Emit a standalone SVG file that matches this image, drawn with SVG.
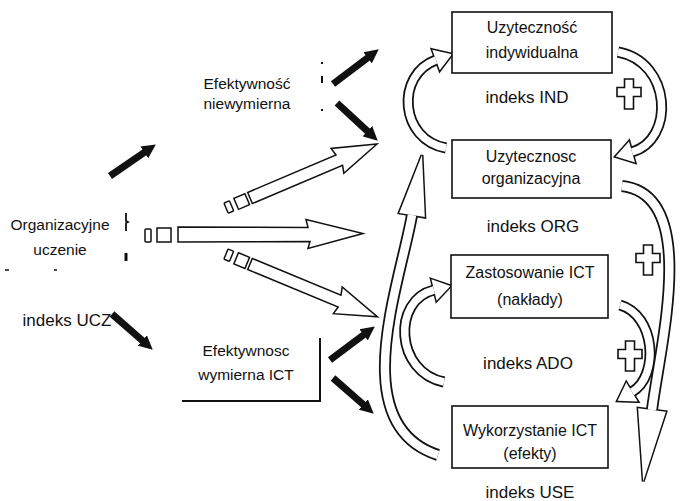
<svg xmlns="http://www.w3.org/2000/svg" width="682" height="501" viewBox="0 0 682 501">
<defs>
<style>
text{font-family:"Liberation Sans",Arial,sans-serif;fill:#111;text-anchor:middle}
.bt{font-size:16px}
.lt{font-size:15.5px}
.ix{font-size:17px}
.box{fill:#fff;stroke:#111;stroke-width:1.6}
.blk{fill:none;stroke:#111;stroke-width:7;marker-end:url(#ah)}
.hol{fill:#fff;stroke:#111;stroke-width:1.5;stroke-linejoin:miter}
.bo{fill:none;stroke:#111;stroke-width:11}
.bi{fill:none;stroke:#fff;stroke-width:7.5}
.Bo{fill:none;stroke:#111;stroke-width:12}
.Bi{fill:none;stroke:#fff;stroke-width:8.5}
.ho{fill:#fff;stroke:#111;stroke-width:3;stroke-linejoin:miter}
.hi{fill:#fff;stroke:none}
.pl{fill:#fff;stroke:#111;stroke-width:1.6}
.mk{stroke:#111;fill:none}
</style>
<marker id="ah" viewBox="0 0 14 15" markerWidth="14" markerHeight="15" markerUnits="userSpaceOnUse" refX="1" refY="7.5" orient="auto"><path d="M0,0.5 L14,7.5 L0,14.5 z" fill="#111"/></marker>
<path id="c1" d="M446,148 C400,140 395,75 436,60"/>
<path id="c2" d="M618,52 C672,62 675,140 632,152"/>
<path id="c3" d="M444,382 C395,372 392,300 434,290"/>
<path id="c4" d="M620,305 C655,315 660,375 632,392"/>
<path id="c5" d="M438,455 C345,425 400,284 412,215"/>
<path id="c6" d="M622,186 C700,195 660,345 652,410"/>
<polygon id="h1" points="432.2,49.7 452,54.2 439.8,70.3"/>
<polygon id="h2" points="629,141.4 615.6,156.6 635,162.6"/>
<polygon id="h3" points="431.4,279.3 450.5,286 436.6,300.7"/>
<polygon id="h4" points="637.7,401.4 617.5,400.8 626.3,382.6"/>
<polygon id="h5" points="399.2,212.9 422,155 424.8,217.1"/>
<polygon id="h6" points="665.9,411.7 643.2,481.4 638.1,408.3"/>
<path id="plus" d="M-4.5,-13 h9 v8.5 h7.5 v9 h-7.5 v12.5 h-9 v-12.5 h-7.5 v-9 h7.5 z"/>
<g id="diag">
<path class="hol" d="M0,-6 L96,-6 L94,-14 L138,0 L96,14 L98,6 L0,6 Z"/>
<rect class="hol" x="-15" y="-6" width="12" height="12"/>
<rect class="hol" x="-26" y="-5.5" width="6" height="11" rx="1"/>
</g>
</defs>

<g id="connectors">
<!-- black arrows -->
<line class="blk" x1="110" y1="176" x2="145.1" y2="151.8"/>
<line class="blk" x1="333" y1="84" x2="368.4" y2="57.2"/>
<line class="blk" x1="337" y1="103" x2="368.2" y2="131.9"/>
<line class="blk" x1="112" y1="314" x2="143" y2="341.1"/>
<line class="blk" x1="330" y1="360" x2="364.4" y2="334.2"/>
<line class="blk" x1="333" y1="378" x2="364" y2="405.1"/>
<!-- hollow straight arrows -->
<use href="#diag" transform="translate(250,198) rotate(-23)"/>
<use href="#diag" transform="translate(250,264) rotate(22.5)"/>
<g transform="translate(178,234.5)">
<path class="hol" d="M0,-7.5 L130,-7 L128,-15 L185,-1 L130,14 L132,7 L0,7.5 Z"/>
<rect class="hol" x="-21" y="-6.5" width="14" height="14"/>
<rect class="hol" x="-33" y="-5.5" width="6" height="13" rx="1"/>
</g>
<!-- curved hollow arrows -->
<use href="#c1" class="bo"/><use href="#h1" class="ho"/><use href="#c1" class="bi"/><use href="#h1" class="hi"/>
<use href="#c2" class="bo"/><use href="#h2" class="ho"/><use href="#c2" class="bi"/><use href="#h2" class="hi"/>
<use href="#c3" class="bo"/><use href="#h3" class="ho"/><use href="#c3" class="bi"/><use href="#h3" class="hi"/>
<use href="#c4" class="bo"/><use href="#h4" class="ho"/><use href="#c4" class="bi"/><use href="#h4" class="hi"/>
<use href="#c5" class="Bo"/><use href="#h5" class="ho"/><use href="#c5" class="Bi"/><use href="#h5" class="hi"/>
<use href="#c6" class="Bo"/><use href="#h6" class="ho"/><use href="#c6" class="Bi"/><use href="#h6" class="hi"/>
</g>

<g id="plus-signs">
<use href="#plus" class="pl" x="629" y="92"/>
<use href="#plus" class="pl" x="648" y="258"/>
<use href="#plus" class="pl" x="630" y="354"/>
</g>

<g id="n-organizacyjne">
<text class="lt" x="60" y="230">Organizacyjne</text>
<text class="lt" x="60" y="255">uczenie</text>
<path class="mk" stroke-width="1.8" d="M126,213 v8 l2,1 l-2,1 v8"/>
<path class="mk" stroke-width="3" d="M126,253 v8"/>
<path class="mk" stroke-width="1.5" d="M5,270 h4 M54,270 h3"/>
</g>

<g id="n-ucz">
<text class="ix" x="67" y="326">indeks UCZ</text>
</g>

<g id="n-niewymierna">
<text class="lt" x="247" y="89">Efektywność</text>
<text class="lt" x="247" y="109">niewymierna</text>
<path class="mk" stroke-width="2" d="M322,62 v2 M322,76 v7 M322,109 v2"/>
</g>

<g id="n-wymierna">
<text class="lt" x="246" y="356">Efektywnosc</text>
<text class="lt" x="246" y="380">wymierna ICT</text>
<path class="mk" stroke-width="2" d="M182,401 H320 V338"/>
</g>

<g id="n-ind">
<rect class="box" x="452" y="12" width="160" height="61"/>
<text class="bt" x="532" y="33">Uzyteczność</text>
<text class="bt" x="532" y="58">indywidualna</text>
<text class="ix" x="527" y="103">indeks IND</text>
</g>

<g id="n-org">
<rect class="box" x="452" y="140" width="159" height="58"/>
<text class="bt" x="531" y="162">Uzytecznosc</text>
<text class="bt" x="531" y="184">organizacyjna</text>
<text class="ix" x="533" y="232">indeks ORG</text>
</g>

<g id="n-ado">
<rect class="box" x="451" y="255" width="157" height="63"/>
<text class="bt" x="530" y="278">Zastosowanie ICT</text>
<text class="bt" x="530" y="305">(nakłady)</text>
<text class="ix" x="528" y="369">indeks ADO</text>
</g>

<g id="n-use">
<rect class="box" x="452" y="406" width="156" height="62"/>
<text class="bt" x="530" y="436">Wykorzystanie ICT</text>
<text class="bt" x="530" y="459">(efekty)</text>
<text class="ix" x="530" y="498">indeks USE</text>
</g>
</svg>
